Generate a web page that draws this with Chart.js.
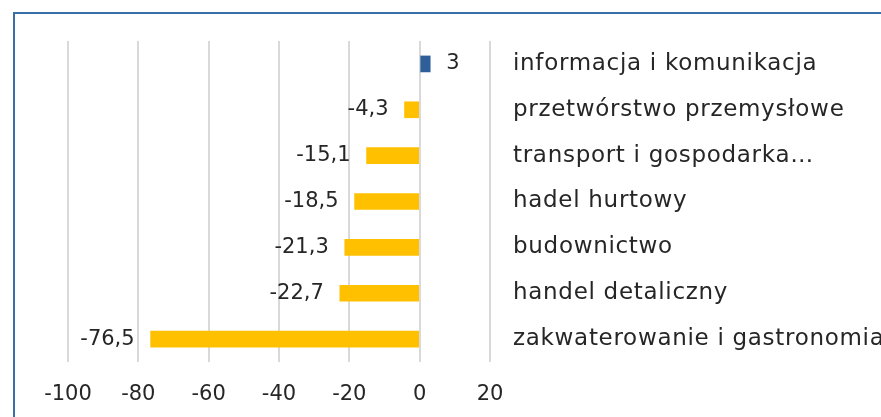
<!DOCTYPE html>
<html>
<head>
<meta charset="utf-8">
<script src="https://cdn.jsdelivr.net/npm/chart.js@4.4.1/dist/chart.umd.min.js"></script>
<style>
  html, body { margin: 0; padding: 0; background: #fff; }
  #wrap { position: relative; width: 881px; height: 417px; overflow: hidden; }
  #frame {
    position: absolute; left: 13px; top: 12px; width: 900px; height: 420px;
    border: 2px solid #3a6ea8; box-sizing: border-box; pointer-events: none;
  }
  canvas { position: absolute; left: 0; top: 0; }
</style>
</head>
<body>
<div id="wrap">
  <canvas id="chart" width="881" height="417"></canvas>
  <div id="frame"></div>
</div>
<script>
const categories = [
  'informacja i komunikacja',
  'przetwórstwo przemysłowe',
  'transport i gospodarka…',
  'hadel hurtowy',
  'budownictwo',
  'handel detaliczny',
  'zakwaterowanie i gastronomia'
];
const values = [3, -4.3, -15.1, -18.5, -21.3, -22.7, -76.5];
const xTicks = [-100, -80, -60, -40, -20, 0, 20];

const FONT = "'DejaVu Sans', sans-serif";
const TEXT = '#262626';

// value labels next to the bars; afterwards widen letter spacing for the
// category labels (y ticks are drawn after the datasets, z: 1)
const valueLabels = {
  id: 'valueLabels',
  afterDatasetsDraw(chart) {
    const ctx = chart.ctx;
    const meta = chart.getDatasetMeta(0);
    ctx.save();
    ctx.letterSpacing = '0px';
    ctx.font = "21px " + FONT;
    ctx.fillStyle = TEXT;
    ctx.textBaseline = 'middle';
    meta.data.forEach((bar, i) => {
      const v = values[i];
      const txt = String(v).replace('.', ',');
      if (v < 0) {
        ctx.textAlign = 'right';
        ctx.fillText(txt, bar.x - 16, bar.y);
      } else {
        ctx.textAlign = 'left';
        ctx.fillText(txt, bar.x + 16, bar.y);
      }
    });
    ctx.restore();
    ctx.letterSpacing = '0.7px';
  },
  afterDraw(chart) {
    chart.ctx.letterSpacing = '0px';
  }
};

new Chart(document.getElementById('chart'), {
  type: 'bar',
  data: {
    labels: categories,
    datasets: [{
      data: values,
      backgroundColor: values.map(v => v >= 0 ? '#2f5f98' : '#ffc000'),
      barThickness: 16
    }]
  },
  options: {
    indexAxis: 'y',
    responsive: false,
    animation: false,
    layout: { padding: { left: 68, top: 41, right: 0, bottom: 0 } },
    plugins: { legend: { display: false }, tooltip: { enabled: false } },
    scales: {
      x: {
        min: -100, max: 20,
        afterBuildTicks(scale) { scale.ticks = xTicks.map(v => ({ value: v })); },
        afterFit(scale) { scale.height = 55; },
        grid: { color: '#d9d9d9', lineWidth: 2, drawTicks: false },
        border: { display: false },
        ticks: { color: TEXT, font: { family: FONT, size: 21 }, padding: 20 }
      },
      y: {
        position: 'right',
        afterFit(scale) { scale.width = 391; },
        grid: { display: false, drawTicks: false },
        border: { display: false },
        ticks: { color: TEXT, font: { family: FONT, size: 23 }, padding: 23, autoSkip: false, z: 1 }
      }
    }
  },
  plugins: [valueLabels]
});
</script>
</body>
</html>
